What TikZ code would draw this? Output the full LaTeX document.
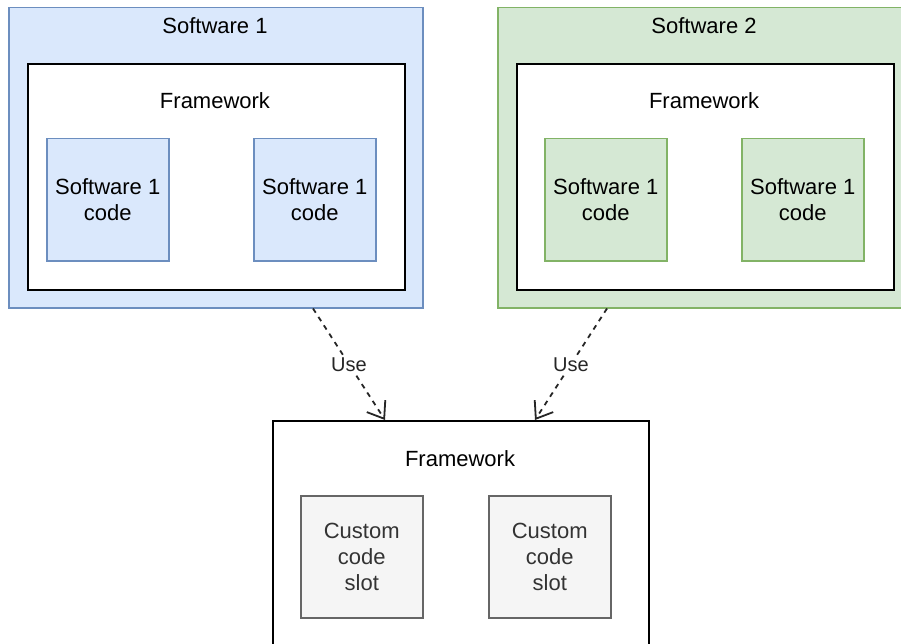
\documentclass[tikz,border=0pt]{standalone}
\usepackage{fontspec}
\setmainfont{Liberation Sans}
\usetikzlibrary{arrows.meta,calc}
\definecolor{blueFill}{HTML}{DAE8FC}
\definecolor{blueLine}{HTML}{6C8EBF}
\definecolor{greenFill}{HTML}{D5E8D4}
\definecolor{greenLine}{HTML}{82B366}
\definecolor{greyFill}{HTML}{F5F5F5}
\definecolor{greyLine}{HTML}{666666}
\definecolor{greyText}{HTML}{333333}
\tikzset{
  x=1pt, y=-1pt,
  box/.style={rectangle, inner sep=0pt, anchor=north west,
    font=\fontsize{22}{26}\selectfont, align=center},
  bluebox/.style={box, draw=blueLine, fill=blueFill, line width=1.5pt},
  greenbox/.style={box, draw=greenLine, fill=greenFill, line width=1.5pt},
  fwbox/.style={box, draw=black, fill=white, line width=1.8pt},
  slotbox/.style={box, draw=greyLine, fill=greyFill, line width=1.5pt, text=greyText},
  uses/.style={draw=black!85, line width=1.8pt, dash pattern=on 5pt off 5pt,
    -{Straight Barb[length=15pt,width=22pt,line width=1.8pt]}},
  uselabel/.style={fill=white, inner sep=1pt, text=black!85, font=\fontsize{20}{24}\selectfont}
}
\begin{document}
\begin{tikzpicture}
\useasboundingbox (0,0) rectangle (901,644);
\fill[white] (0,0) rectangle (901,644);

% Software 1
\node[bluebox, minimum width=414pt, minimum height=300pt] (sw1) at (8,7) {};
\node[font=\fontsize{22}{26}\selectfont] (sw1t) at (215,26) {Software 1};
\node[fwbox, minimum width=377pt, minimum height=226pt] (fw1) at (27,63) {};
\node[font=\fontsize{22}{26}\selectfont] (fw1t) at (215,101) {Framework};
\node[bluebox, minimum width=122pt, minimum height=122pt] (c11) at (46,138) {Software 1\\code};
\node[bluebox, minimum width=122pt, minimum height=122pt] (c12) at (253,138) {Software 1\\code};

% Software 2
\clip (0,0) rectangle (901,644);
\node[greenbox, minimum width=414pt, minimum height=300pt] (sw2) at (497,7) {};
\node[font=\fontsize{22}{26}\selectfont] (sw2t) at (704,26) {Software 2};
\node[fwbox, minimum width=377pt, minimum height=226pt] (fw2) at (516,63) {};
\node[font=\fontsize{22}{26}\selectfont] (fw2t) at (704,101) {Framework};
\node[greenbox, minimum width=122pt, minimum height=122pt] (c21) at (544,138) {Software 1\\code};
\node[greenbox, minimum width=122pt, minimum height=122pt] (c22) at (741,138) {Software 1\\code};

% Shared framework
\node[fwbox, minimum width=376pt, minimum height=226pt] (fw3) at (272,420) {};
\node[font=\fontsize{22}{26}\selectfont] (fw3t) at (460,459) {Framework};
\node[slotbox, minimum width=122pt, minimum height=122pt] (s1) at (300,495) {Custom\\code\\slot};
\node[slotbox, minimum width=122pt, minimum height=122pt] (s2) at (488,495) {Custom\\code\\slot};

% Use relations
\draw[uses] ($(sw1.south west)+(305,0)$) -- node[uselabel] {Use} ($(fw3.north west)+(113,0)$);
\draw[uses] ($(sw2.south west)+(110,0)$) -- node[uselabel] {Use} ($(fw3.north west)+(263,0)$);
\end{tikzpicture}
\end{document}
